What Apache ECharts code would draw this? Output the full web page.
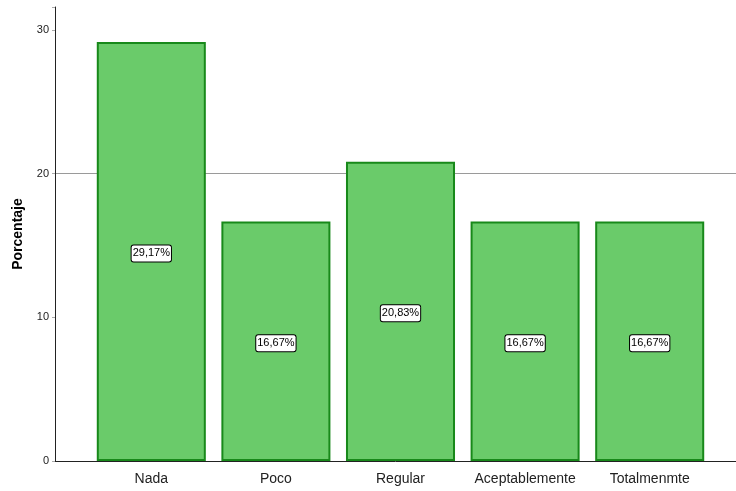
<!DOCTYPE html>
<html>
<head>
<meta charset="utf-8">
<script src="https://cdn.jsdelivr.net/npm/echarts@6/dist/echarts.min.js"></script>
<style>
  html, body { margin: 0; padding: 0; background: #fff; }
  #main { width: 736px; height: 491px; }
</style>
</head>
<body>
<div id="main"></div>
<script>
// data
var categories = ['Nada', 'Poco', 'Regular', 'Aceptablemente', 'Totalmenmte'];
var porcentaje = [29.17, 16.67, 20.83, 16.67, 16.67];
var yTicks = [0, 10, 20, 30];

var chart = echarts.init(document.getElementById('main'));

var yMax = 31.6;
var option = {
    backgroundColor: '#fff',
    animation: false,
    textStyle: { fontFamily: 'Liberation Sans, Arial, sans-serif' },
    grid: [
        // frame: axis lines + y labels
        { left: 55, right: 0, top: 7, bottom: 30 },
        // bars
        { left: 89, right: 24, top: 7, bottom: 30 }
    ],
    xAxis: [{
        gridIndex: 0,
        type: 'value',
        min: 0, max: 1,
        axisLine: { show: true, lineStyle: { color: '#222', width: 1 } },
        axisTick: { show: false },
        axisLabel: { show: false },
        splitLine: { show: false }
    }, {
        gridIndex: 1,
        type: 'category',
        data: categories,
        axisLine: { show: false },
        axisTick: { show: false },
        axisLabel: {
            interval: 0,
            color: '#222', fontSize: 14, margin: 11,
            fontFamily: 'Liberation Sans Narrow, Liberation Sans, Arial, sans-serif'
        }
    }],
    yAxis: [{
        gridIndex: 0,
        type: 'value',
        min: 0, max: yMax, interval: 10,
        name: 'Porcentaje',
        nameLocation: 'middle',
        nameGap: 30,
        nameTextStyle: { color: '#000', fontSize: 14, fontWeight: 'bold' },
        axisLine: { show: true, onZero: false, lineStyle: { color: '#222', width: 1 } },
        axisTick: { show: true, length: 3, lineStyle: { color: '#aaa' } },
        axisLabel: {
            color: '#222', fontSize: 11, margin: 6,
            formatter: function (v) { return yTicks.indexOf(v) >= 0 ? v : ''; }
        },
        splitLine: {
            show: true,
            lineStyle: { color: ['rgba(0,0,0,0)', 'rgba(0,0,0,0)', '#9a9a9a', 'rgba(0,0,0,0)'], width: 1 }
        }
    }, {
        gridIndex: 1,
        type: 'value',
        min: 0, max: yMax, interval: 10,
        show: false,
        splitLine: { show: false }
    }],
    series: [{
        name: 'Porcentaje',
        type: 'bar',
        xAxisIndex: 1,
        yAxisIndex: 1,
        data: porcentaje,
        barCategoryGap: '12.5%',
        itemStyle: {
            color: '#6acb6a',
            borderColor: '#18891a',
            borderWidth: 2
        },
        label: {
            show: true,
            position: 'inside',
            offset: [0, 2],
            color: '#000',
            fontSize: 11,
            backgroundColor: '#fff',
            borderColor: '#000',
            borderWidth: 1,
            borderRadius: 2,
            padding: [3, 1, 2, 1],
            formatter: function (p) {
                return p.value.toFixed(2).replace('.', ',') + '%';
            }
        }
    }]
};
chart.setOption(option);
</script>
</body>
</html>
